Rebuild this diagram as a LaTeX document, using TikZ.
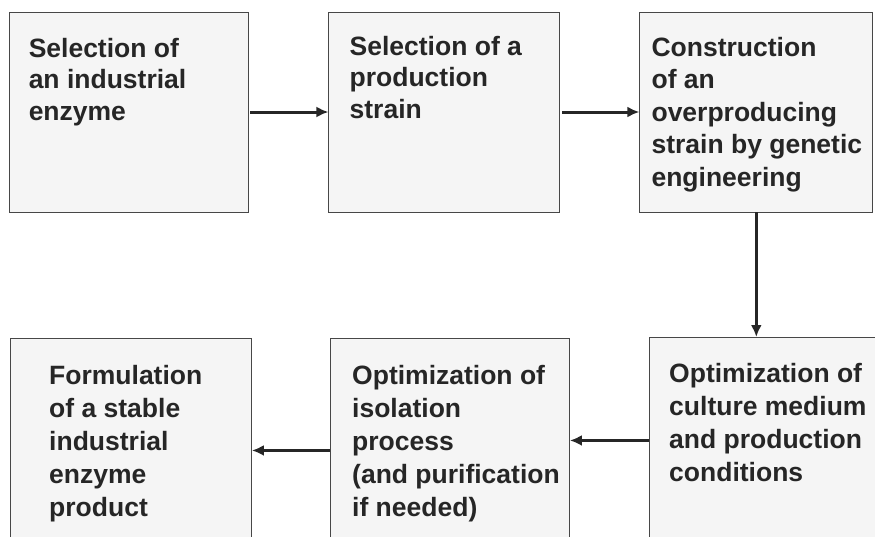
\documentclass[tikz,border=0pt]{standalone}
\usepackage{fontspec}
\usepackage{xcolor}
\usetikzlibrary{positioning, arrows.meta}
\newfontfamily\boxfont{Liberation Sans}
\definecolor{boxfill}{HTML}{F5F5F5}
\definecolor{inkgray}{HTML}{262626}

\begin{document}
\begin{tikzpicture}[x=1pt, y=1pt, node distance = 80pt]
        \tikzset{stage/.style={draw=inkgray!85, line width=0.9pt, fill=boxfill, inner sep=0pt, minimum height=200pt},
                 stagetext/.style={inner sep=0pt, align=left, anchor=north west, text=inkgray, font=\boxfont\bfseries\fontsize{26.5}{31.5}\selectfont},
                 flow/.style={draw=inkgray, line width=3pt, -{Latex[length=12pt,width=11pt]}}}
        \useasboundingbox (0,0) rectangle (875,-536);
        \clip (0,0) rectangle (875,-536);

        % top row
        \node[stage, minimum width=239pt] (b1) at (128.5,-112) {};
        \node[stage, minimum width=231pt] (b2) [right = 80pt of b1] {};
        \node[stage, minimum width=233pt] (b3) [right = 79pt of b2] {};

        % bottom row
        \node[stage, minimum width=241pt, minimum height=224pt, anchor=north west] (b4) at (10,-338) {};
        \node[stage, minimum width=239pt, minimum height=224pt, anchor=north west] (b5) at (330,-338) {};
        \node[stage, minimum width=233pt, minimum height=206pt, anchor=north west] (b6) at (649,-337) {};

        \node[stagetext] (t1) at ([xshift=20pt,yshift=-26.5pt]b1.north west) {Selection of\\an industrial\\enzyme};
        \node[stagetext] (t2) at ([xshift=21pt,yshift=-24.5pt]b2.north west) {Selection of a\\production\\strain};
        \node[stagetext, font=\boxfont\bfseries\fontsize{26.5}{32.5}\selectfont] (t3) at ([xshift=12pt,yshift=-25.5pt]b3.north west) {Construction\\of an\\overproducing\\strain by genetic\\engineering};
        \node[stagetext, font=\boxfont\bfseries\fontsize{26.5}{33}\selectfont] (t4) at ([xshift=39pt,yshift=-27.5pt]b4.north west) {Formulation\\of a stable\\industrial\\enzyme\\product};
        \node[stagetext, font=\boxfont\bfseries\fontsize{26.5}{33}\selectfont] (t5) at ([xshift=22pt,yshift=-27.5pt]b5.north west) {Optimization of\\isolation\\process\\(and purification\\if needed)};
        \node[stagetext, font=\boxfont\bfseries\fontsize{26.5}{33}\selectfont] (t6) at ([xshift=20pt,yshift=-26.5pt]b6.north west) {Optimization of\\culture medium\\and production\\conditions};

        \draw[flow] ([xshift=2pt]b1.east) -- (b2.west);
        \draw[flow] ([xshift=2pt]b2.east) -- (b3.west);
        \draw[flow] (b3.south) -- (b3.south |- b6.north);
        \draw[flow] (b6.west) -- (b5.east |- b6.west);
        \draw[flow] (b5.west) -- (b4.east |- b5.west);

    \end{tikzpicture}
\end{document}
